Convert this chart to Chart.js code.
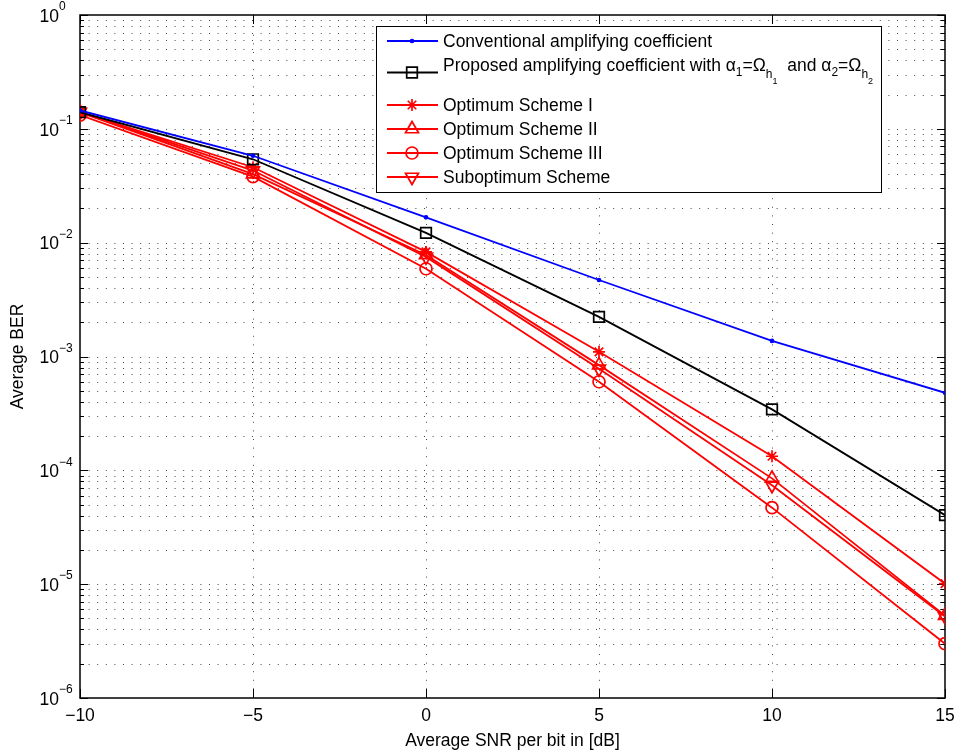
<!DOCTYPE html>
<html>
<head>
<meta charset="utf-8">
<script src="https://cdn.jsdelivr.net/npm/chart.js@4/dist/chart.umd.min.js"></script>
<style>
  html, body { margin: 0; padding: 0; background: #fff; }
  #wrap { width: 957px; height: 754px; }
</style>
</head>
<body>
<div id="wrap"><canvas id="c" width="957" height="754"></canvas></div>
<script>
// ---- data ----
const snrDb = [-10, -5, 0, 5, 10, 15];
const conventional = [0.145, 0.058, 0.0167, 0.0047, 0.00137, 0.00048];
const proposed = [0.14, 0.054, 0.0122, 0.00223, 0.000343, 0.0000404];
const optimumI = [0.14, 0.046, 0.0083, 0.0011, 0.000133, 0.0000101];
const optimumII = [0.14, 0.040, 0.0078, 0.00084, 0.000085, 0.0000053];
const optimumIII = [0.132, 0.038, 0.0059, 0.0006, 0.000047, 0.000003];
const suboptimum = [0.14, 0.043, 0.0075, 0.00078, 0.000074, 0.0000052];
const xTicks = [-10, -5, 0, 5, 10, 15];
const yDecades = [0, -1, -2, -3, -4, -5, -6];
const seriesNames = [
  'Conventional amplifying coefficient',
  'Proposed amplifying coefficient with',
  'Optimum Scheme I',
  'Optimum Scheme II',
  'Optimum Scheme III',
  'Suboptimum Scheme'
];

const FONT = 'Arial, "Liberation Sans", Helvetica, sans-serif';
const FS = 17.5;
const pts = arr => snrDb.map((x, i) => ({x: x, y: arr[i]}));

function ds(label, data, color, style, radius, rot) {
  return {
    label: label, data: pts(data),
    borderColor: color, backgroundColor: 'rgba(0,0,0,0)',
    pointBorderColor: color, pointBackgroundColor: style === 'circle' && radius < 2 ? color : 'rgba(0,0,0,0)',
    borderWidth: 1.8, pointBorderWidth: 1.7,
    pointStyle: style, pointRadius: radius, pointRotation: rot || 0,
    pointHoverRadius: radius, tension: 0
  };
}

const datasets = [
  ds(seriesNames[0], conventional, '#0000ff', 'circle', 1.5),
  ds(seriesNames[1], proposed, '#000000', 'rect', 7.5),
  ds(seriesNames[2], optimumI, '#ff0000', 'star', 6),
  ds(seriesNames[3], optimumII, '#ff0000', 'triangle', 7.5),
  ds(seriesNames[4], optimumIII, '#ff0000', 'circle', 6),
  ds(seriesNames[5], suboptimum, '#ff0000', 'triangle', 7.5, 180)
];

const matlabPlugin = {
  id: 'matlab',
  beforeDatasetsDraw(chart) {
    const ctx = chart.ctx, a = chart.chartArea;
    const xs = chart.scales.x, ys = chart.scales.y;
    ctx.save();
    ctx.strokeStyle = 'rgba(40,40,40,0.85)';
    ctx.lineWidth = 1;
    ctx.setLineDash([1, 7.6]);
    // vertical grid
    xTicks.forEach(v => {
      if (v === xTicks[0] || v === xTicks[xTicks.length - 1]) return;
      const px = Math.round(xs.getPixelForValue(v)) + 0.5;
      ctx.beginPath(); ctx.moveTo(px, a.bottom); ctx.lineTo(px, a.top); ctx.stroke();
    });
    // horizontal grid (log)
    for (let e = -6; e < 0; e++) {
      for (let k = 1; k <= 9; k++) {
        if (e === -6 && k === 1) continue;
        const py = Math.round(ys.getPixelForValue(k * Math.pow(10, e))) + 0.5;
        ctx.beginPath(); ctx.moveTo(a.left, py); ctx.lineTo(a.right, py); ctx.stroke();
      }
    }
    ctx.setLineDash([]);
    // tick marks inward on all sides
    ctx.strokeStyle = '#000';
    for (let e = -6; e <= 0; e++) {
      for (let k = 1; k <= 9; k++) {
        const v = k * Math.pow(10, e);
        if (v > 1.0000001) break;
        const py = Math.round(ys.getPixelForValue(v)) + 0.5;
        const len = k === 1 ? 8 : 4;
        ctx.beginPath();
        ctx.moveTo(a.left, py); ctx.lineTo(a.left + len, py);
        ctx.moveTo(a.right, py); ctx.lineTo(a.right - len, py);
        ctx.stroke();
      }
    }
    xTicks.forEach(v => {
      const px = Math.round(xs.getPixelForValue(v)) + 0.5;
      ctx.beginPath();
      ctx.moveTo(px, a.bottom); ctx.lineTo(px, a.bottom - 9);
      ctx.moveTo(px, a.top); ctx.lineTo(px, a.top + 9);
      ctx.stroke();
    });
    // box
    ctx.lineWidth = 1.5;
    ctx.strokeRect(a.left, a.top, a.right - a.left, a.bottom - a.top);
    // y tick labels 10^e
    ctx.fillStyle = '#000';
    yDecades.forEach(e => {
      const py = ys.getPixelForValue(Math.pow(10, e));
      ctx.font = FS + 'px ' + FONT;
      ctx.textAlign = 'right'; ctx.textBaseline = 'middle';
      ctx.fillText('10', 59, py + 2);
      ctx.font = '12px ' + FONT;
      ctx.textAlign = 'left';
      ctx.fillText(e === 0 ? '0' : '\u2212' + (-e), 59, py - 8);
    });
    ctx.restore();
  },
  afterDatasetsDraw(chart) {
    const ctx = chart.ctx;
    const metas = chart.data.datasets;
    ctx.save();
    // legend box
    const bx = 376, by = 26, bw = 505, bh = 166;
    ctx.fillStyle = '#fff';
    ctx.fillRect(bx, by, bw, bh);
    ctx.strokeStyle = '#000'; ctx.lineWidth = 1;
    ctx.strokeRect(bx + 0.5, by + 0.5, bw, bh);
    const rows = [41, 72.5, 105, 129, 153, 177];
    const lx0 = 387, lx1 = 438, mx = 412, tx = 443;
    metas.forEach((d, i) => {
      const y = rows[i];
      ctx.strokeStyle = d.borderColor; ctx.lineWidth = d.borderWidth;
      ctx.beginPath(); ctx.moveTo(lx0, y); ctx.lineTo(lx1, y); ctx.stroke();
      ctx.fillStyle = d.pointBackgroundColor;
      ctx.lineWidth = d.pointBorderWidth;
      Chart.helpers.drawPoint(ctx, {
        pointStyle: d.pointStyle, radius: d.pointRadius,
        rotation: d.pointRotation, borderWidth: d.pointBorderWidth
      }, mx, y);
    });
    ctx.fillStyle = '#000';
    ctx.textAlign = 'left'; ctx.textBaseline = 'middle';
    ctx.font = FS + 'px ' + FONT;
    [0, 2, 3, 4, 5].forEach(i => ctx.fillText(seriesNames[i], tx, rows[i] + 1));
    // row 2 with subscripts
    const baseY = 66;
    const segs = [
      {t: seriesNames[1] + ' \u03b1', s: FS, dy: 0},
      {t: '1', s: 12, dy: 7},
      {t: '=\u03a9', s: FS, dy: 0},
      {t: 'h', s: 12, dy: 9},
      {t: '1', s: 9, dy: 16},
      {t: '  and \u03b1', s: FS, dy: 0},
      {t: '2', s: 12, dy: 7},
      {t: '=\u03a9', s: FS, dy: 0},
      {t: 'h', s: 12, dy: 9},
      {t: '2', s: 9, dy: 16}
    ];
    let cx = tx;
    segs.forEach(sg => {
      ctx.font = sg.s + 'px ' + FONT;
      ctx.fillText(sg.t, cx, baseY + sg.dy);
      cx += ctx.measureText(sg.t).width;
    });
    ctx.restore();
  }
};

new Chart(document.getElementById('c'), {
  type: 'line',
  data: { datasets: datasets },
  plugins: [matlabPlugin],
  options: {
    responsive: false,
    animation: false,
    events: [],
    layout: { padding: { left: 0, right: 12, top: 15, bottom: 0 } },
    plugins: { legend: { display: false }, tooltip: { enabled: false } },
    scales: {
      x: {
        type: 'linear', min: -10, max: 15,
        afterFit: s => { s.height = 56; s.paddingLeft = 0; s.paddingRight = 0; },
        afterBuildTicks: s => { s.ticks = xTicks.map(v => ({value: v})); },
        grid: { display: false, drawTicks: false },
        border: { display: false },
        ticks: {
          color: '#000', padding: 8, font: { size: FS, family: FONT },
          maxRotation: 0, autoSkip: false,
          callback: v => (v < 0 ? '\u2212' + Math.abs(v) : String(v))
        },
        title: {
          display: true, text: 'Average SNR per bit in [dB]', color: '#000',
          font: { size: FS, family: FONT }, padding: { top: 0, bottom: 2 }
        }
      },
      y: {
        type: 'logarithmic', min: 1e-6, max: 1,
        afterFit: s => { s.width = 80; s.paddingTop = 0; s.paddingBottom = 0; },
        grid: { display: false, drawTicks: false },
        border: { display: false },
        ticks: { display: false },
        title: {
          display: true, text: 'Average BER', color: '#000',
          font: { size: FS, family: FONT }, padding: { top: 8, bottom: 0 }
        }
      }
    }
  }
});
</script>
</body>
</html>
